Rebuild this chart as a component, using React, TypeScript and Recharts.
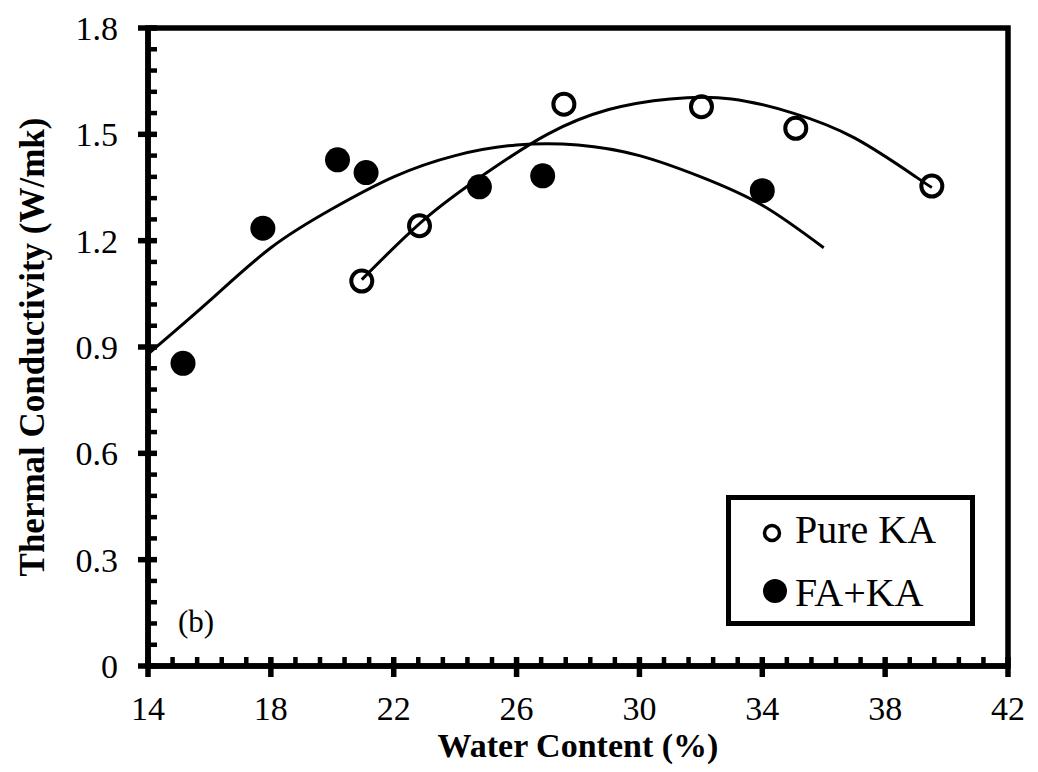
import React from 'react';
import { ComposedChart, Scatter, Line, XAxis, YAxis, ReferenceArea, Legend } from 'recharts';

// measured points
const pureKaWater = [20.96, 22.84, 27.54, 32.02, 35.09, 39.52];
const pureKaCond = [1.086, 1.242, 1.585, 1.578, 1.517, 1.354];
const faKaWater = [15.14, 17.74, 20.17, 21.1, 24.79, 26.85, 34.0];
const faKaCond = [0.854, 1.235, 1.428, 1.392, 1.352, 1.383, 1.341];

// 2nd order trendlines, sampled along each curve
const pureTrendWater = [20.96, 23, 25, 27, 29, 31, 33, 35, 37, 39, 39.52];
const pureTrendCond = [1.09, 1.26, 1.39, 1.5, 1.57, 1.6, 1.6, 1.56, 1.49, 1.38, 1.35];
const faTrendWater = [14, 16, 18, 20, 22, 24, 26, 28, 30, 32, 34, 36];
const faTrendCond = [0.88, 1.03, 1.18, 1.29, 1.38, 1.44, 1.47, 1.47, 1.44, 1.38, 1.3, 1.18];

const xMajorTicks = [14, 18, 22, 26, 30, 34, 38, 42];
const yMajorTicks = [0, 0.3, 0.6, 0.9, 1.2, 1.5, 1.8];
const yTickLabels = ['0', '0.3', '0.6', '0.9', '1.2', '1.5', '1.8'];

const SERIF = '"Liberation Serif", "Times New Roman", serif';
const AXIS_W = 5.5;

const zip = (xs: number[], ys: number[]) => xs.map((x, i) => ({ x, y: ys[i] }));

const pureKa = zip(pureKaWater, pureKaCond);
const faKa = zip(faKaWater, faKaCond);
const pureTrend = zip(pureTrendWater, pureTrendCond);
const faTrend = zip(faTrendWater, faTrendCond);

// majors plus 4 minor ticks between each pair
const withMinor = (majors: number[], parts: number) => {
  const out: number[] = [];
  for (let i = 0; i < majors.length - 1; i++) {
    const step = (majors[i + 1] - majors[i]) / parts;
    for (let k = 0; k < parts; k++) out.push(+(majors[i] + k * step).toFixed(3));
  }
  out.push(majors[majors.length - 1]);
  return out;
};

const xTicks = withMinor(xMajorTicks, 5);
const yTicks = withMinor(yMajorTicks, 5);

const majorIndex = (v: number, list: number[]) => list.findIndex(m => Math.abs(m - v) < 1e-6);

function XTick(props: any) {
  const { x, y, payload } = props;
  const major = majorIndex(payload.value, xMajorTicks) >= 0;
  return (
    <g>
      {major ? (
        <line x1={x} x2={x} y1={y - 9} y2={y + 11} stroke="#000" strokeWidth={5.5} />
      ) : (
        <line x1={x} x2={x} y1={y} y2={y - 9} stroke="#000" strokeWidth={4.5} />
      )}
      {major && (
        <text x={x} y={y + 54} textAnchor="middle" fontFamily={SERIF} fontSize={34} fill="#000">
          {payload.value}
        </text>
      )}
    </g>
  );
}

function YTick(props: any) {
  const { x, y, payload } = props;
  const idx = majorIndex(payload.value, yMajorTicks);
  return (
    <g>
      {idx >= 0 ? (
        <line x1={x - 10} x2={x + 9} y1={y} y2={y} stroke="#000" strokeWidth={5.5} />
      ) : (
        <line x1={x} x2={x + 9} y1={y} y2={y} stroke="#000" strokeWidth={4.5} />
      )}
      {idx >= 0 && (
        <text x={x - 30} y={y + 12} textAnchor="end" fontFamily={SERIF} fontSize={34} fill="#000">
          {yTickLabels[idx]}
        </text>
      )}
    </g>
  );
}

const OpenDot = (p: any) => (
  <circle cx={p.cx} cy={p.cy} r={10.5} fill="none" stroke="#000" strokeWidth={4} />
);
const FilledDot = (p: any) => <circle cx={p.cx} cy={p.cy} r={12.5} fill="#000" />;

function LegendBox() {
  return (
    <svg width={249} height={131} style={{ display: 'block' }}>
      <rect x={2.5} y={2.5} width={244} height={126} fill="#fff" stroke="#000" strokeWidth={5} />
      <circle cx={46} cy={38} r={7.5} fill="none" stroke="#000" strokeWidth={3.5} />
      <text x={69} y={48} fontFamily={SERIF} fontSize={40} fill="#000">Pure KA</text>
      <circle cx={49} cy={96} r={12} fill="#000" />
      <text x={69} y={111} fontFamily={SERIF} fontSize={40} fill="#000">FA+KA</text>
    </svg>
  );
}

export default function App() {
  return (
    <div style={{ position: 'absolute', left: 0, top: 0, background: '#fff' }}>
      <ComposedChart width={1038} height={772} margin={{ top: 28, right: 30, bottom: 0, left: 0 }}>
        <ReferenceArea x1={14} x2={42} y1={0} y2={1.8} fill="none" stroke="#000" strokeWidth={AXIS_W} />
        <XAxis
          dataKey="x"
          type="number"
          domain={[14, 42]}
          ticks={xTicks}
          interval={0}
          height={106}
          tickSize={0}
          tickMargin={0}
          tick={<XTick />}
          axisLine={{ stroke: '#000', strokeWidth: AXIS_W }}
          allowDataOverflow
        />
        <YAxis
          type="number"
          domain={[0, 1.8]}
          ticks={yTicks}
          interval={0}
          width={148}
          tickSize={0}
          tickMargin={0}
          tick={<YTick />}
          axisLine={{ stroke: '#000', strokeWidth: AXIS_W }}
          allowDataOverflow
        />
        <Line data={faTrend} dataKey="y" type="natural" stroke="#000" strokeWidth={3} dot={false} legendType="none" isAnimationActive={false} />
        <Line data={pureTrend} dataKey="y" type="natural" stroke="#000" strokeWidth={3} dot={false} legendType="none" isAnimationActive={false} />
        <Scatter name="Pure KA" data={pureKa} dataKey="y" shape={OpenDot} isAnimationActive={false} />
        <Scatter name="FA+KA" data={faKa} dataKey="y" shape={FilledDot} isAnimationActive={false} />
        <Legend
          layout="vertical"
          align="center"
          verticalAlign="middle"
          content={() => <LegendBox />}
          wrapperStyle={{ left: 726, top: 495, width: 249, height: 131 }}
        />
        <text x={178} y={632} fontFamily={SERIF} fontSize={31} fill="#000">(b)</text>
        <text x={578} y={757} textAnchor="middle" fontFamily={SERIF} fontSize={34} fontWeight="bold" fill="#000">
          Water Content (%)
        </text>
        <text
          transform="translate(44, 347) rotate(-90)"
          textAnchor="middle"
          fontFamily={SERIF}
          fontSize={35}
          fontWeight="bold"
          fill="#000"
        >
          Thermal Conductivity (W/mk)
        </text>
      </ComposedChart>
    </div>
  );
}
